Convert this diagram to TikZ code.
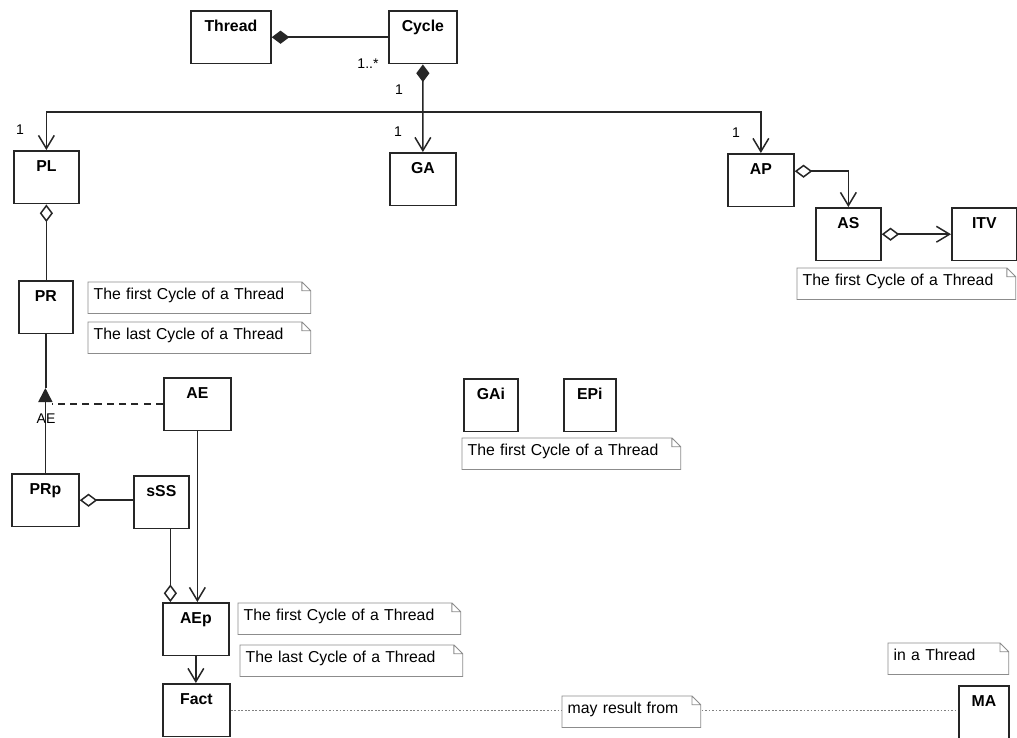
\documentclass[tikz,border=0pt]{standalone}
\usepackage{fontspec}
\setmainfont{Liberation Sans}
\usetikzlibrary{arrows.meta,positioning}

\tikzset{
  >={Straight Barb[length=7.5pt,width=9pt]},
  fdiam/.tip={Diamond[length=10pt,width=7.5pt]},
  odiam/.tip={Diamond[open,length=10pt,width=7.5pt]},
  ftri/.tip={Triangle[length=8pt,width=8pt]},
  cls/.style={draw=black!85,line width=1pt,fill=white,anchor=north west,
    font=\bfseries\fontsize{9}{10}\selectfont,minimum width=#1,
    text height=7pt,text depth=13pt,inner ysep=5pt},
  cls/.default=1.32cm,
  note/.style={fill=white,anchor=north west,font=\fontsize{9}{10}\selectfont,
    text width=#1,align=left,inner xsep=3pt,inner ysep=3pt,text height=7pt,text depth=4.5pt},
  notel/.style={draw=black!45,line width=0.5pt},
  link/.style={draw=black!85,line width=0.85pt},
  dotl/.style={draw=black!50,line width=0.5pt,dash pattern=on 1pt off 1pt},
  mult/.style={font=\fontsize{8}{9}\selectfont,inner sep=1pt},
}

\begin{document}
\begin{tikzpicture}[x=0.02cm,y=-0.02cm]
\fill[white] (0,0) rectangle (1017,737);
\useasboundingbox (0,0) rectangle (1017,737);

\node[cls=1.6cm]  (thread) at (190,10)  {Thread};
\node[cls=1.36cm] (cycle)  at (388,10)  {Cycle};
\node[cls=1.3cm]  (pl)     at (13,150)  {PL};
\node[cls]        (ga)     at (389,152) {GA};
\node[cls]        (ap)     at (727,153) {AP};
\node[cls=1.3cm]  (as)     at (815,207) {AS};
\node[cls=1.3cm]  (itv)    at (951,207) {ITV};
\node[cls=1.08cm] (pr)     at (18,280)  {PR};
\node[cls=1.34cm] (ae)     at (163,377) {AE};
\node[cls=1.34cm] (prp)    at (11,473)  {PRp};
\node[cls=1.1cm]  (sss)    at (133,475) {sSS};
\node[cls]        (aep)    at (162,602) {AEp};
\node[cls=1.34cm] (fact)   at (162,683) {Fact};
\node[cls=1.08cm] (gai)    at (463,378) {GAi};
\node[cls=1.04cm] (epi)    at (563,378) {EPi};
\node[cls=1cm]    (ma)     at (958,685) {MA};

\coordinate (bus) at (422,112);
\coordinate (gen) at (45,388);

\draw[link,fdiam-] (thread.east) -- (thread.east -| cycle.west);
\draw[link,fdiam->] (cycle.south) -- (ga.north);
\draw[link,->] (bus) -| (pl.north);
\draw[link,->] (bus) -| (ap.north);
\draw[link,odiam->] ([yshift=0.18cm]ap.east) -| (as.north);
\draw[link,odiam->] (as.east) -- (itv.west);
\draw[link,odiam-] (pl.south) -- (pl.south |- pr.north);
\draw[link] (pr.south) -- (pr.south |- gen);
\draw[link,-ftri] (prp.north) -- (prp.north |- gen);
\draw[link,dashed,dash pattern=on 4pt off 3pt] (ae.west) -- ([xshift=4pt]gen |- ae.west);
\draw[link,odiam-] (prp.east) -- (prp.east -| sss.west);
\draw[link,-odiam] ([xshift=0.18cm]sss.south) -- ([xshift=0.18cm]sss.south |- aep.north);
\draw[link,->] (ae.south) -- (ae.south |- aep.north);
\draw[link,->] (aep.south) -- (aep.south |- fact.north);
\draw[dotl] (fact.east) -- (fact.east -| ma.west);

\node[mult] (m1) at (368,64)  {1..*};
\node[mult] (m2) at (399,90)  {1};
\node[mult] (m3) at (20,130)  {1};
\node[mult] (m4) at (398,132) {1};
\node[mult] (m5) at (736,133) {1};
\node[mult] (gl) at (46,419)  {AE};

\node[note=4.23cm] (n1) at (88,282)  {The first Cycle of a Thread};
\node[note=4.23cm] (n2) at (88,322)  {The last Cycle of a Thread};
\node[note=4.15cm] (n3) at (797,268) {The first Cycle of a Thread};
\node[note=4.15cm] (n4) at (462,438) {The first Cycle of a Thread};
\node[note=4.23cm] (n5) at (238,603) {The first Cycle of a Thread};
\node[note=4.23cm] (n6) at (240,645) {The last Cycle of a Thread};
\node[note=2.55cm] (n7) at (562,696) {may result from};
\node[note=2.19cm] (n8) at (888,643) {in a Thread};
\foreach \n in {n1,n2,n3,n4,n5,n6,n7,n8}
  \draw[notel] (\n.south west) -- (\n.north west) -- ([xshift=-5pt]\n.north east)
    -- ([yshift=-5pt]\n.north east) -- (\n.south east) -- cycle
    ([xshift=-5pt]\n.north east) |- ([yshift=-5pt]\n.north east);
\end{tikzpicture}
\end{document}
